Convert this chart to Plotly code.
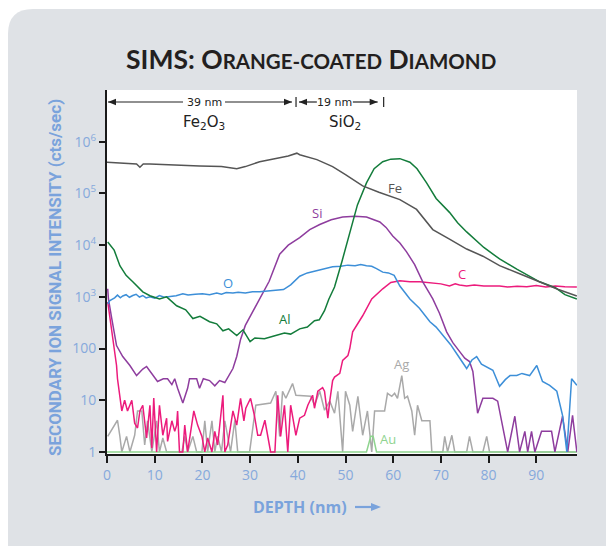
import plotly.graph_objects as go

# ---------------- data (depth in nm, intensity in counts/sec) ----------------
FE_DEPTH = [0, 3, 6.2, 6.9, 7.6, 9, 14, 19.4, 24, 27.2, 29, 32, 36.2, 38, 39.8, 40.4,
            44, 47.3, 50, 53.6, 57, 61.4, 64.9, 68.3, 71.8, 75.4, 78.8, 82.3, 86.5, 90.7, 94.5, 98.5]
FE = [4.0e5, 3.9e5, 3.7e5, 3.2e5, 3.7e5, 3.7e5, 3.5e5, 3.4e5, 3.3e5, 3.0e5, 3.3e5, 4.1e5, 4.9e5,
      5.3e5, 6.0e5, 5.6e5, 4.5e5, 3.3e5, 2.3e5, 1.4e5, 1.05e5, 7.6e4, 4.9e4, 2.0e4, 1.3e4, 8400,
      6100, 4000, 2800, 1950, 1400, 1040]

AL_DEPTH = [0.15, 1.5, 2.7, 4, 5.4, 7.5, 9, 11, 12.5, 14.6, 16.5, 18, 19.5, 21.5, 23, 24.3, 25.5,
            27.2, 28.5, 30, 31, 33, 35, 37.2, 38.5, 40.4, 42, 43.5, 44.5, 45.6, 46.5, 47.7, 49.3,
            50.9, 52.5, 54.4, 56, 57.8, 59.5, 61.4, 63.5, 65, 67, 69, 71.8, 73.5, 75.4, 79, 82.3,
            86, 90.7, 94, 96, 98.5]
AL = [11500, 8000, 4000, 2600, 1950, 1250, 1050, 910, 1000, 670, 560, 380, 420, 330, 300, 220, 240,
      178, 230, 136, 160, 155, 175, 200, 190, 240, 260, 345, 360, 540, 900, 1550, 5000,
      1.8e4, 6e4, 1.6e5, 3.0e5, 4.1e5, 4.6e5, 4.7e5, 4.0e5, 3.0e5, 1.6e5, 8e4, 4.3e4, 2.7e4, 1.8e4,
      9000, 5400, 3400, 1950, 1500, 1100, 910]

O_DEPTH = [0.15, 0.6, 1.6, 2.2, 2.8, 3.3, 4, 4.7, 5.4, 6.1, 6.8, 7.5, 8.2, 9, 10, 11, 12, 13, 14.5,
           15.9, 17, 18.5, 20, 21.5, 23, 24, 25, 26.4, 27.5, 29, 30.5, 32, 33.5, 35.6, 37, 38.5,
           40.4, 42, 44, 45.5, 47.3, 49, 50.5, 52, 53.2, 54.4, 55.5, 56.5, 57.8, 59, 60.2, 61.4,
           63.5, 65.5, 67.7, 69, 70.4, 72, 73.5, 75.4, 76.5, 77.5, 78.5, 79.5, 80.9, 82.3, 83.5,
           84.5, 85.9, 87, 88.6, 90.1, 91.3, 92.8, 94.3, 95.5, 96.4, 97.4, 98.5]
O = [735, 850, 955, 1080, 960, 1040, 1100, 980, 1060, 1120, 990, 1060, 950, 1000, 940, 1060, 980,
     1000, 1050, 1140, 1080, 1120, 1150, 1100, 1180, 1120, 1210, 1190, 1230, 1180, 1250, 1250, 1290,
     1310, 1380, 1700, 2500, 2900, 3200, 3400, 3800, 3900, 4100, 4000, 4200, 4000, 3900, 3500, 3000,
     2900, 2600, 1620, 910, 600, 330, 260, 178, 120, 75, 41, 60, 70, 50, 45, 38, 18.6, 25, 30, 30,
     33, 30, 47, 23, 19.4, 14.9, 5.1, 1, 26, 19.4]

SI_DEPTH = [0.15, 0.3, 1.0, 2.0, 3.3, 4.8, 6.2, 7.5, 8.3, 9.6, 10.6, 11.8, 12.7, 13.6, 14.2, 14.8,
            15.9, 16.9, 17.3, 18.8, 19.4, 20.2, 21.5, 22.6, 23.6, 24.7, 25.5, 26.4, 27.2, 28, 29,
            30.5, 32, 34, 36.2, 38, 40.4, 42.5, 44.6, 47, 49.4, 52, 54.4, 56, 57.2, 58.5, 59.9,
            61.4, 62.8, 64.5, 66.2, 68.3, 69.7, 71.2, 72.5, 73.9, 75, 76, 76.7, 77.7, 78.8, 79.8,
            80.9, 81.9, 83, 84, 85.5, 86.5, 87.6, 88.2, 89, 89.7, 91.1, 93.2, 93.9, 95.5, 96.6,
            97.6, 98.5]
SI = [1430, 910, 380, 114, 70, 47, 30, 40, 45, 30, 23, 26, 26, 20, 26, 17, 8.8, 17, 26, 26, 17, 26,
      24, 19, 24, 22, 30, 41, 70, 150, 280, 500, 910, 2000, 6700, 1.0e4, 1.4e4, 2.0e4, 2.5e4, 3.1e4,
      3.5e4, 3.6e4, 3.5e4, 3.1e4, 2.8e4, 2.2e4, 1.5e4, 1.1e4, 7400, 4200, 1950, 910, 480, 210, 130,
      88, 65, 56, 36, 5.6, 10.9, 10.9, 10.9, 9.6, 2.9, 1, 4.9, 1, 2.5, 1, 2.5, 1, 2.5, 2.5, 1, 4.9,
      1, 5.1, 1]

C_DEPTH = [0.15, 1.0, 2.0, 2.2, 3.1, 3.7, 4.3, 5.2, 5.8, 6.4, 6.9, 7.5, 8.3, 9.0, 9.4, 9.8, 10.4,
           11.0, 11.7, 12.5, 12.7, 13.6, 14.2, 14.6, 14.8, 15.2, 15.9, 16.3, 16.9, 18.2, 19.0, 19.9,
           20.5, 21.1, 22.0, 22.6, 23.2, 24.3, 24.7, 25.3, 26.4, 27.2, 28.0, 28.7, 29.1, 30.1, 30.9,
           31.6, 32.2, 33.1, 34.1, 34.3, 35.2, 35.8, 36.4, 37.2, 37.9, 38.5, 39.6, 40.4, 41.4, 42.1,
           43.1, 43.5, 44.2, 45.2, 45.6, 46.3, 46.7, 47.3, 47.7, 48.8, 49.4, 50.5, 50.9, 51.5, 53.6,
           55.5, 57.8, 59.5, 61.4, 63.5, 65.6, 68, 70, 71.8, 73, 73.9, 75.4, 77, 79, 81, 82.3, 84,
           86, 88, 90, 92, 94, 96, 98.5]
C = [800, 210, 47, 26, 6.2, 10, 6.2, 10, 3.6, 2.9, 6.2, 8.0, 1.86, 8.0, 1.19, 11, 1.0, 8.0, 2.1,
     4.5, 1.6, 4.0, 2.5, 3.3, 6.2, 1, 1, 3.3, 1, 6.2, 3.3, 2.0, 1, 1.86, 1, 2.5, 1.36, 12.5, 1,
     1.36, 6.2, 3.3, 10.9, 4.0, 7.0, 10.9, 5.1, 2.1, 2.1, 4.1, 1.36, 1, 1, 12.5, 2.0, 8.0, 1, 8.0,
     2.1, 4.5, 5.1, 8.0, 12.5, 7.0, 14.9, 17.5, 14.9, 4.5, 9.6, 24, 28, 33, 59, 73, 100, 210, 430,
     910, 1430, 1900, 2040, 1950, 1950, 1850, 1780, 1620, 1780, 1700, 1620, 1700, 1620, 1620, 1620,
     1550, 1600, 1560, 1650, 1550, 1620, 1560, 1550]

AG_DEPTH = [0.15, 2.2, 2.7, 3.1, 4.1, 4.8, 5.8, 6.4, 7.3, 7.9, 8.5, 9.4, 10.4, 11.0, 11.7, 12.5,
            15.7, 16.3, 16.9, 18.0, 18.8, 19.9, 20.5, 21.1, 22.0, 22.6, 23.2, 24.0, 24.7, 25.3,
            25.9, 26.8, 27.4, 29.9, 31.2, 34.3, 35.4, 36.2, 36.8, 37.5, 38.9, 39.6, 42.7, 43.5,
            44.6, 45.6, 46.7, 47.7, 48.4, 49.4, 50.0, 50.9, 51.5, 52.6, 53.6, 54.6, 55.5, 56.1,
            58.2, 58.8, 59.7, 60.3, 60.9, 61.8, 62.4, 63.0, 63.9, 64.5, 65.1, 66.0, 67.7, 68.1,
            70.4, 70.8, 71.4, 72.3, 72.9, 75.4, 76.0, 76.7, 78.8, 79.6, 80.2, 98.5]
AG = [2.0, 4.1, 2.0, 1, 2.0, 1, 2.1, 6.2, 6.2, 1.36, 4.0, 1, 4.0, 1, 1.86, 1, 1, 2.0, 1, 2.0, 1,
      1, 4.0, 1, 4.0, 1, 2.0, 1, 4.0, 2.0, 1, 4.1, 1, 1, 8.0, 8.8, 14.9, 2.0, 14.9, 10.9, 21, 12.5,
      11.9, 8.0, 14.9, 6.4, 9.6, 5.6, 14.9, 1, 14.9, 8.0, 2.5, 11.9, 2.1, 6.2, 1, 6.2, 6.2, 13.6,
      11.9, 13.6, 10.9, 30, 10.9, 11.9, 6.2, 2.1, 8.0, 4.0, 4.0, 1, 1, 2.0, 1, 2.1, 1, 1, 2.0, 1,
      1, 2.0, 1, 1]

AU_DEPTH = [0, 54.4, 55.3, 55.8, 56.5, 98.5]
AU = [1, 1, 2.0, 2.0, 1, 1]

SERIES = [
    ("Ag", AG_DEPTH, AG, "#a9a9a9"),
    ("Au", AU_DEPTH, AU, "#8fd48f"),
    ("C", C_DEPTH, C, "#ec1b7c"),
    ("Si", SI_DEPTH, SI, "#8e3d9e"),
    ("O", O_DEPTH, O, "#3d8fd8"),
    ("Al", AL_DEPTH, AL, "#137c3b"),
    ("Fe", FE_DEPTH, FE, "#555555"),
]

# label positions (depth, log10 intensity)
LABELS = {"O": (25.3, 3.27), "Al": (37.3, 2.58), "Si": (44.0, 4.63), "Fe": (60.3, 5.10),
          "C": (74.4, 3.44), "Ag": (61.8, 1.71), "Au": (58.9, 0.25)}

Y_TICKS = [1, 10, 100, 1e3, 1e4, 1e5, 1e6]
Y_TICKTEXT = ["1", "10", "100", "10<sup>3</sup>", "10<sup>4</sup>", "10<sup>5</sup>", "10<sup>6</sup>"]
X_TICKS = list(range(0, 100, 10))

FE2O3_NM = 39
SIO2_NM = 19

# ---------------- figure ----------------
W, H = 606, 546
L, R, T, B = 107, 29, 90, 92
PW, PH = W - L - R, H - T - B
PX_PER_NM = 4.77
XMAX = PW / PX_PER_NM

def px(xpix):
    return (xpix - L) / PW

def py(ypix):
    return (H - B - ypix) / PH

def nm_px(d):
    return L + d * PX_PER_NM

AXIS_BLUE = "#86a9dc"
TITLE_BLUE = "#7aa3dc"
INK = "#222222"

fig = go.Figure()
for name, xs, ys, col in SERIES:
    fig.add_trace(go.Scatter(x=xs, y=ys, mode="lines", name=name,
                             line=dict(color=col, width=1.5), showlegend=False))

# panel background with rounded top-left corner
x0, x1 = px(8), px(W + 20)
yt, yb = py(9), py(H + 20)
dx, dy = 25 / PW, 25 / PH
shapes = [
    dict(type="path", xref="paper", yref="paper", layer="below", line=dict(width=0),
         fillcolor="#dfe2e6",
         path=f"M {x0},{yb} L {x0},{yt-dy} Q {x0},{yt} {x0+dx},{yt} L {x1},{yt} L {x1},{yb} Z"),
    dict(type="rect", xref="paper", yref="paper", layer="below", line=dict(width=0),
         fillcolor="white", x0=0, x1=1, y0=0, y1=1),
]

def hline(xa, xb, ypix, color, width):
    return dict(type="line", xref="paper", yref="paper", x0=px(xa), x1=px(xb),
                y0=py(ypix), y1=py(ypix), line=dict(color=color, width=width))

def vline(xpix, ya, yb_, color, width):
    return dict(type="line", xref="paper", yref="paper", x0=px(xpix), x1=px(xpix),
                y0=py(ya), y1=py(yb_), line=dict(color=color, width=width))

def head(tip, direction, ypix, color, length=8, half=3.2):
    base = tip - direction * length
    return dict(type="path", xref="paper", yref="paper", line=dict(width=0), fillcolor=color,
                path=(f"M {px(tip)},{py(ypix)} L {px(base)},{py(ypix - half)} "
                      f"L {px(base)},{py(ypix + half)} Z"))

# thickness arrows
AY = 102
b0, b1, b2 = nm_px(0) + 1, nm_px(FE2O3_NM) + 3, nm_px(FE2O3_NM + SIO2_NM)
fe_c = (b0 + b1) / 2 + 2
si_c = (b1 + b2) / 2 - 5
shapes += [
    hline(b0, fe_c - 21, AY, INK, 1.2), head(b0, -1, AY, INK),
    hline(fe_c + 21, b1 - 4, AY, INK, 1.2), head(b1 - 4, 1, AY, INK),
    vline(b1, AY - 5, AY + 5, INK, 1.2),
    hline(b1 + 3, si_c - 18, AY, INK, 1.2), head(b1 + 3, -1, AY, INK),
    hline(si_c + 18, b2 - 6, AY, INK, 1.2), head(b2 - 6, 1, AY, INK),
    vline(b2, AY - 5, AY + 5, INK, 1.2),
]

annotations = []
lab_font = dict(family="Open Sans", size=13)
for name, xs, ys, col in SERIES:
    lx, ly = LABELS[name]
    annotations.append(dict(x=lx, y=ly, xref="x", yref="y", text=name, showarrow=False,
                            xanchor="center", yanchor="middle",
                            font=dict(color=col, **lab_font)))

def ptext(xpix, ypix, text, font, **kw):
    d = dict(x=px(xpix), y=py(ypix), xref="paper", yref="paper", text=text, showarrow=False,
             xanchor="center", yanchor="middle", font=font)
    d.update(kw)
    return d

small = dict(family="DejaVu Sans", size=11, color=INK)
big = dict(family="DejaVu Sans", size=15, color=INK)
annotations += [
    ptext(fe_c, AY, f"{FE2O3_NM} nm", small),
    ptext(si_c, AY, f"{SIO2_NM} nm", small),
    ptext(204, 122, "Fe<sub>2</sub>O<sub>3</sub>", big),
    ptext(345, 122, "SiO<sub>2</sub>", big),
]

# title
title_html = ("SIMS: O<span style='font-size:20.5px'>RANGE-COATED</span> "
              "D<span style='font-size:20.5px'>IAMOND</span>")
annotations.append(ptext(311, 59, title_html,
                         dict(family="Lato", size=26.5, color="#231f20", weight=700)))

# axis titles
annotations.append(ptext(300, 507, "DEPTH (nm)",
                         dict(family="Open Sans", size=16, color=TITLE_BLUE, weight=700)))
shapes += [hline(355, 372, 507, TITLE_BLUE, 2.2), head(381, 1, 507, TITLE_BLUE, length=10, half=4)]
annotations.append(ptext(55, 278, "SECONDARY ION SIGNAL INTENSITY (cts/sec)",
                         dict(family="Liberation Sans Narrow, Roboto, sans-serif", size=17,
                              color=TITLE_BLUE, weight=700), textangle=-90))

fig.update_layout(
    width=W, height=H, margin=dict(l=L, r=R, t=T, b=B),
    paper_bgcolor="white", plot_bgcolor="white",
    shapes=shapes, annotations=annotations,
    xaxis=dict(range=[0, XMAX], showgrid=False, zeroline=False, showline=True,
               linecolor="#1a1a1a", linewidth=2, ticks="outside", ticklen=7, tickwidth=1.5,
               tickcolor="#1a1a1a", tickvals=X_TICKS,
               tickfont=dict(family="Open Sans", size=14, color=AXIS_BLUE)),
    yaxis=dict(type="log", range=[-0.04, 7.0], showgrid=False, zeroline=False, showline=True,
               linecolor="#1a1a1a", linewidth=2, ticks="outside", ticklen=6, tickwidth=1.5,
               tickcolor="#1a1a1a", tickvals=Y_TICKS, ticktext=Y_TICKTEXT,
               tickfont=dict(family="Open Sans", size=14, color=AXIS_BLUE)),
)

fig.write_html("out.html", config={"displayModeBar": False},
               post_script="document.body.style.margin='0';document.body.style.overflow='hidden';")
